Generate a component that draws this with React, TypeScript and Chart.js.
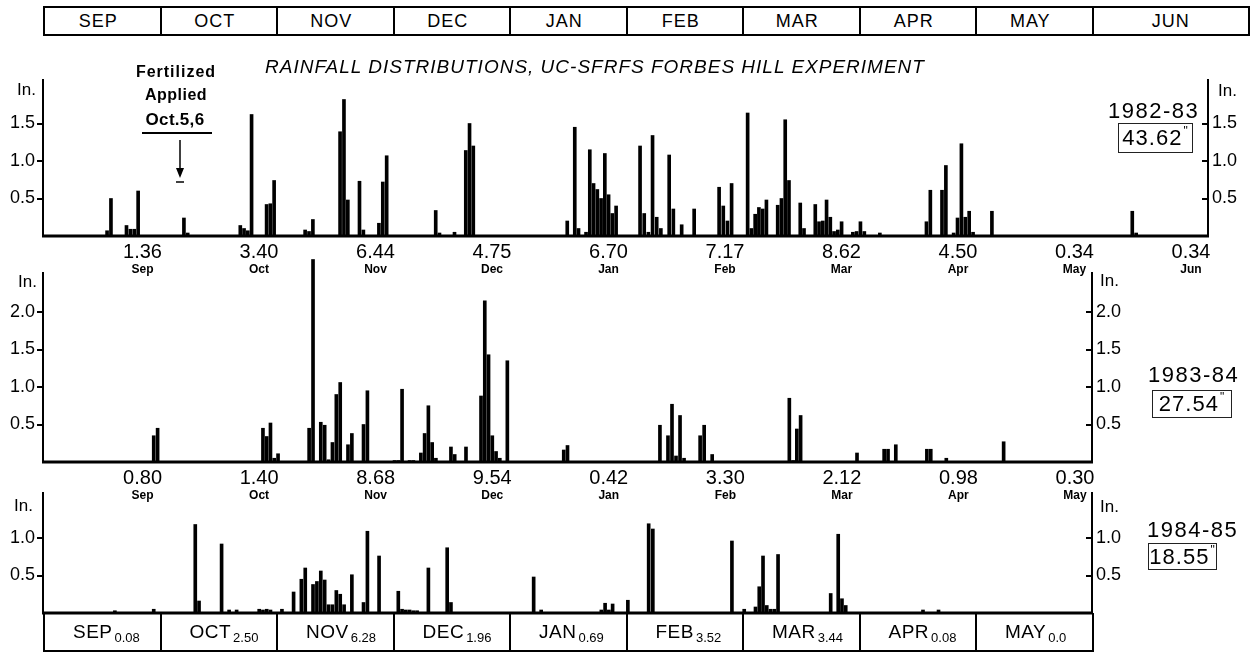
import React, { useEffect, useRef } from "react";
import { Chart, registerables } from "chart.js";

Chart.register(...registerables);

const FONT = "'Liberation Sans', Arial, sans-serif";

const MONTH_NAMES = ["Sep", "Oct", "Nov", "Dec", "Jan", "Feb", "Mar", "Apr", "May", "Jun"];
const HEADER_LABELS = ["SEP", "OCT", "NOV", "DEC", "JAN", "FEB", "MAR", "APR", "MAY", "JUN"];
const FOOTER_LABELS = ["SEP", "OCT", "NOV", "DEC", "JAN", "FEB", "MAR", "APR", "MAY"];

const DAYS_1982_83 = [30, 31, 30, 31, 31, 28, 31, 30, 31, 30];
const DAYS_1983_84 = [30, 31, 30, 31, 31, 29, 31, 30, 31];
const DAYS_1984_85 = [30, 31, 30, 31, 31, 28, 31, 30, 31];

const TOTALS_1982_83 = ["1.36", "3.40", "6.44", "4.75", "6.70", "7.17", "8.62", "4.50", "0.34", "0.34"];
const TOTALS_1983_84 = ["0.80", "1.40", "8.68", "9.54", "0.42", "3.30", "2.12", "0.98", "0.30"];
const TOTALS_1984_85 = ["0.08", "2.50", "6.28", "1.96", "0.69", "3.52", "3.44", "0.08", "0.0"];

const SEASONS = ["1982-83", "1983-84", "1984-85"];
const SEASON_TOTALS = ["43.62", "27.54", "18.55"];

const TICKS_1982_83 = [0.5, 1.0, 1.5];
const TICKS_1983_84 = [0.5, 1.0, 1.5, 2.0];
const TICKS_1984_85 = [0.5, 1.0];

// ---- daily rainfall 1982-83 ----
const RAIN_1982_83_DATES = [
  "Sep 17", "Sep 18", "Sep 22", "Sep 23", "Sep 24", "Sep 25",
  "Oct 7", "Oct 8", "Oct 22", "Oct 23", "Oct 24", "Oct 25", "Oct 29", "Oct 30", "Oct 31",
  "Nov 8", "Nov 9", "Nov 10", "Nov 17", "Nov 18", "Nov 19", "Nov 22", "Nov 23", "Nov 27", "Nov 28", "Nov 29",
  "Dec 12", "Dec 13", "Dec 17", "Dec 20", "Dec 21", "Dec 22",
  "Jan 16", "Jan 18", "Jan 19", "Jan 21", "Jan 22", "Jan 23", "Jan 24", "Jan 25", "Jan 26", "Jan 27", "Jan 28", "Jan 29",
  "Feb 4", "Feb 5", "Feb 6", "Feb 7", "Feb 8", "Feb 9", "Feb 11", "Feb 12", "Feb 14", "Feb 17", "Feb 23", "Feb 24", "Feb 25", "Feb 26",
  "Mar 2", "Mar 3", "Mar 4", "Mar 5", "Mar 6", "Mar 7", "Mar 10", "Mar 11", "Mar 12", "Mar 13", "Mar 16", "Mar 17",
  "Mar 20", "Mar 21", "Mar 22", "Mar 23", "Mar 24", "Mar 25", "Mar 26", "Mar 27", "Mar 30", "Mar 31",
  "Apr 1", "Apr 2", "Apr 6", "Apr 18", "Apr 19", "Apr 22", "Apr 23", "Apr 25", "Apr 26", "Apr 27", "Apr 28", "Apr 29", "Apr 30",
  "May 5", "Jun 11", "Jun 12",
];
const RAIN_1982_83_INCHES = [
  0.07, 0.5, 0.14, 0.09, 0.09, 0.6,
  0.24, 0.04, 0.14, 0.1, 0.07, 1.62, 0.42, 0.43, 0.74,
  0.08, 0.06, 0.22, 1.39, 1.82, 0.48, 0.73, 0.08, 0.17, 0.72, 1.07,
  0.34, 0.04, 0.05, 1.14, 1.5, 1.2,
  0.2, 1.45, 0.1, 0.05, 1.15, 0.7, 0.62, 0.5, 1.1, 0.55, 0.3, 0.4,
  1.2, 0.3, 0.05, 1.34, 0.25, 0.1, 1.08, 0.36, 0.15, 0.36, 0.65, 0.4, 0.2, 0.7,
  1.64, 0.1, 0.29, 0.38, 0.36, 0.48, 0.41, 0.5, 1.55, 0.74, 0.44, 0.1,
  0.42, 0.19, 0.2, 0.48, 0.25, 0.06, 0.08, 0.19, 0.05, 0.06,
  0.19, 0.06, 0.04, 0.19, 0.61, 0.61, 0.94, 0.04, 0.24, 1.23, 0.25, 0.33, 0.05,
  0.33, 0.33, 0.04,
];

// ---- daily rainfall 1983-84 ----
const RAIN_1983_84_DATES = [
  "Sep 29", "Sep 30",
  "Oct 28", "Oct 29", "Oct 30", "Oct 31",
  "Nov 1", "Nov 9", "Nov 10", "Nov 12", "Nov 13", "Nov 14", "Nov 15", "Nov 16", "Nov 17", "Nov 19", "Nov 20", "Nov 23", "Nov 24",
  "Dec 1", "Dec 2", "Dec 3", "Dec 5", "Dec 6", "Dec 8", "Dec 9", "Dec 10", "Dec 11", "Dec 12", "Dec 16", "Dec 17", "Dec 20",
  "Dec 24", "Dec 25", "Dec 26", "Dec 27", "Dec 28", "Dec 29", "Dec 31",
  "Jan 15", "Jan 16",
  "Feb 9", "Feb 11", "Feb 12", "Feb 13", "Feb 14", "Feb 15", "Feb 19", "Feb 20", "Feb 22",
  "Mar 13", "Mar 14", "Mar 15", "Mar 16", "Mar 31",
  "Apr 7", "Apr 8", "Apr 10", "Apr 18", "Apr 19", "Apr 23",
  "May 8",
];
const RAIN_1983_84_INCHES = [
  0.35, 0.45,
  0.45, 0.34, 0.52, 0.05,
  0.11, 0.45, 2.7, 0.53, 0.49, 0.03, 0.26, 0.9, 1.06, 0.23, 0.38, 0.5, 0.95,
  0.02, 0.02, 0.97, 0.02, 0.02, 0.12, 0.38, 0.75, 0.26, 0.05, 0.2, 0.1, 0.2,
  0.88, 2.15, 1.43, 0.35, 0.14, 0.05, 1.35,
  0.16, 0.22,
  0.49, 0.35, 0.77, 0.08, 0.62, 0.05, 0.35, 0.49, 0.1,
  0.85, 0.02, 0.44, 0.62, 0.12,
  0.17, 0.17, 0.23, 0.17, 0.17, 0.05,
  0.27,
];

// ---- daily rainfall 1984-85 ----
const RAIN_1984_85_DATES = [
  "Sep 19", "Sep 29",
  "Oct 10", "Oct 11", "Oct 17", "Oct 19", "Oct 21", "Oct 27", "Oct 28", "Oct 29", "Oct 30",
  "Nov 2", "Nov 5", "Nov 7", "Nov 8", "Nov 10", "Nov 11", "Nov 12", "Nov 13", "Nov 14", "Nov 15", "Nov 16", "Nov 17", "Nov 18",
  "Nov 20", "Nov 23", "Nov 24", "Nov 27",
  "Dec 2", "Dec 3", "Dec 4", "Dec 5", "Dec 6", "Dec 7", "Dec 10", "Dec 15", "Dec 16",
  "Jan 7", "Jan 9", "Jan 25", "Jan 26", "Jan 27", "Jan 28",
  "Feb 1", "Feb 6", "Feb 7", "Feb 26",
  "Mar 1", "Mar 4", "Mar 5", "Mar 6", "Mar 7", "Mar 8", "Mar 9", "Mar 10", "Mar 24", "Mar 26", "Mar 27", "Mar 28",
  "Apr 17", "Apr 21",
];
const RAIN_1984_85_INCHES = [
  0.03, 0.05,
  1.18, 0.16, 0.92, 0.04, 0.04, 0.05, 0.04, 0.05, 0.04,
  0.05, 0.28, 0.45, 0.6, 0.38, 0.42, 0.56, 0.44, 0.11, 0.11, 0.3, 0.25, 0.11,
  0.51, 0.14, 1.09, 0.76,
  0.29, 0.05, 0.04, 0.04, 0.03, 0.03, 0.6, 0.87, 0.14,
  0.48, 0.04, 0.04, 0.13, 0.04, 0.12,
  0.17, 1.19, 1.12, 0.96,
  0.05, 0.08, 0.35, 0.76, 0.1, 0.05, 0.05, 0.78, 0.26, 1.05, 0.19, 0.1,
  0.04, 0.04,
];

type Pt = { x: number; y: number };

function toPoints(dates: string[], inches: number[], days: number[]): Pt[] {
  return dates.map((d, i) => {
    const m = MONTH_NAMES.indexOf(d.slice(0, 3));
    const day = parseInt(d.slice(4), 10);
    return { x: m + (day - 0.5) / days[m], y: inches[i] };
  });
}

type PanelProps = {
  top: number;
  height: number;
  padTop: number;
  padBottom: number;
  rightEdge: number;
  yMax: number;
  yTicks: number[];
  points: Pt[];
  months: number;
  totals: string[] | null;
};

function RainPanel(p: PanelProps) {
  const ref = useRef<HTMLCanvasElement | null>(null);
  useEffect(() => {
    const canvas = ref.current;
    if (!canvas) return;
    const decor = {
      id: "panelDecor",
      afterDraw(chart: any) {
        const { ctx, chartArea, scales } = chart;
        const y0 = scales.y.getPixelForValue(0);
        ctx.save();
        ctx.strokeStyle = "#000";
        ctx.lineWidth = 3;
        ctx.beginPath();
        ctx.moveTo(chartArea.left - 1, y0);
        ctx.lineTo(chartArea.right + 1, y0);
        ctx.stroke();
        ctx.lineWidth = 2;
        for (const v of p.yTicks) {
          const yy = Math.round(scales.y2.getPixelForValue(v));
          ctx.beginPath();
          ctx.moveTo(chartArea.right - 6, yy);
          ctx.lineTo(chartArea.right, yy);
          ctx.stroke();
        }
        if (p.totals) {
          ctx.fillStyle = "#000";
          ctx.textAlign = "center";
          ctx.textBaseline = "middle";
          p.totals.forEach((t, i) => {
            const x = scales.x.getPixelForValue(i + 1) - 17;
            ctx.font = `20px ${FONT}`;
            ctx.fillText(t, x, y0 + 16);
            ctx.font = `bold 12px ${FONT}`;
            ctx.fillText(MONTH_NAMES[i], x, y0 + 34);
          });
        }
        ctx.restore();
      },
    };
    const chart = new Chart(canvas, {
      type: "bar",
      data: {
        datasets: [
          {
            data: p.points as any,
            backgroundColor: "#000",
            borderWidth: 0,
            barThickness: 3,
            clip: false as any,
            xAxisID: "x",
            yAxisID: "y",
          },
        ],
      },
      options: {
        responsive: false,
        animation: false,
        events: [],
        layout: { padding: { top: p.padTop, bottom: p.padBottom, left: 0, right: 0 } },
        plugins: { legend: { display: false }, tooltip: { enabled: false } },
        scales: {
          x: { type: "linear", min: 0, max: p.months, display: false, offset: false },
          y: {
            type: "linear",
            position: "left",
            min: 0,
            max: p.yMax,
            afterFit: (s: any) => {
              s.width = 43;
            },
            afterBuildTicks: (s: any) => {
              s.ticks = p.yTicks.map((v) => ({ value: v }));
            },
            ticks: {
              color: "#000",
              font: { family: FONT, size: 18 },
              padding: 2,
              callback: (v: any) => Number(v).toFixed(1),
            },
            grid: { drawOnChartArea: false, drawTicks: true, tickLength: 6, color: "#000", lineWidth: 2 },
            border: { display: true, color: "#000", width: 2 },
          },
          y2: {
            type: "linear",
            position: "right",
            min: 0,
            max: p.yMax,
            afterFit: (s: any) => {
              s.width = 1255 - p.rightEdge;
            },
            afterBuildTicks: (s: any) => {
              s.ticks = p.yTicks.map((v) => ({ value: v }));
            },
            ticks: {
              color: "#000",
              font: { family: FONT, size: 18 },
              padding: 4,
              callback: (v: any) => Number(v).toFixed(1),
            },
            grid: { drawOnChartArea: false, drawTicks: false },
            border: { display: true, color: "#000", width: 2 },
          },
        } as any,
      },
      plugins: [decor],
    } as any);
    return () => chart.destroy();
  }, []);
  return (
    <canvas
      ref={ref}
      width={1255}
      height={p.height}
      style={{ position: "absolute", left: 0, top: p.top, width: 1255, height: p.height }}
    />
  );
}

function Txt(props: {
  x: number;
  y: number;
  size: number;
  align?: "left" | "center" | "right";
  weight?: string;
  italic?: boolean;
  spacing?: number;
  children: React.ReactNode;
}) {
  const { x, y, size, align = "left", weight = "normal", italic = false, spacing = 0 } = props;
  const tx = align === "center" ? "-50%" : align === "right" ? "-100%" : "0";
  return (
    <div
      style={{
        position: "absolute",
        left: x,
        top: y - size / 2,
        fontSize: size,
        lineHeight: `${size}px`,
        fontWeight: weight as any,
        fontStyle: italic ? "italic" : "normal",
        letterSpacing: spacing,
        whiteSpace: "nowrap",
        transform: `translateX(${tx})`,
      }}
    >
      {props.children}
    </div>
  );
}

function TotalBox(props: { x: number; y: number; w: number; h: number; value: string }) {
  return (
    <div
      style={{
        position: "absolute",
        left: props.x,
        top: props.y,
        width: props.w,
        height: props.h,
        boxSizing: "border-box",
        border: "1.5px solid #222",
        display: "flex",
        alignItems: "center",
        justifyContent: "center",
        fontSize: 22,
        lineHeight: "22px",
        letterSpacing: 1,
      }}
    >
      {props.value}
      <span style={{ fontSize: 12, position: "relative", top: -7, marginLeft: 1 }}>"</span>
    </div>
  );
}

export default function App() {
  const MW = 116.5;
  const L = 43;
  const p1 = toPoints(RAIN_1982_83_DATES, RAIN_1982_83_INCHES, DAYS_1982_83);
  const p2 = toPoints(RAIN_1983_84_DATES, RAIN_1983_84_INCHES, DAYS_1983_84);
  const p3 = toPoints(RAIN_1984_85_DATES, RAIN_1984_85_INCHES, DAYS_1984_85);
  return (
    <div
      style={{
        position: "absolute",
        left: 0,
        top: 0,
        width: 1255,
        height: 656,
        background: "#fff",
        overflow: "hidden",
        fontFamily: FONT,
        color: "#000",
      }}
    >
      {HEADER_LABELS.map((m, i) => {
        const left = L + i * MW;
        const last = i === HEADER_LABELS.length - 1;
        const right = last ? 1250 : left + MW;
        return (
          <div
            key={m}
            style={{
              position: "absolute",
              left,
              top: 6,
              width: right - left + (last ? 0 : 2),
              height: 30,
              boxSizing: "border-box",
              borderTop: "2px solid #000",
              borderBottom: "2px solid #000",
              borderLeft: "2px solid #000",
              borderRight: last ? "2px solid #000" : "none",
              display: "flex",
              alignItems: "center",
              justifyContent: "center",
              paddingRight: last ? 0 : 10,
              fontSize: 18,
              letterSpacing: 1,
            }}
          >
            {m}
          </div>
        );
      })}

      <RainPanel
        top={50}
        height={230}
        padTop={30}
        padBottom={44}
        rightEdge={1208}
        yMax={2.08}
        yTicks={TICKS_1982_83}
        points={p1}
        months={10}
        totals={TOTALS_1982_83}
      />
      <RainPanel
        top={250}
        height={255}
        padTop={23}
        padBottom={43}
        rightEdge={1092}
        yMax={2.52}
        yTicks={TICKS_1983_84}
        points={p2}
        months={9}
        totals={TOTALS_1983_84}
      />
      <RainPanel
        top={468}
        height={169}
        padTop={25}
        padBottom={24}
        rightEdge={1092}
        yMax={1.6}
        yTicks={TICKS_1984_85}
        points={p3}
        months={9}
        totals={null}
      />

      <Txt x={265} y={66} size={19} italic spacing={1}>
        RAINFALL DISTRIBUTIONS, UC-SFRFS FORBES HILL EXPERIMENT
      </Txt>

      <Txt x={176} y={72} size={16} align="center" weight="bold" spacing={1}>
        Fertilized
      </Txt>
      <Txt x={176} y={95} size={16} align="center" weight="bold" spacing={0.5}>
        Applied
      </Txt>
      <Txt x={175} y={119} size={17} align="center" weight="bold" spacing={0.3}>
        Oct.5,6
      </Txt>
      <svg style={{ position: "absolute", left: 0, top: 0 }} width={260} height={200}>
        <line x1={142} y1={133} x2={212} y2={133} stroke="#000" strokeWidth={2} />
        <line x1={180} y1={140} x2={180} y2={170} stroke="#000" strokeWidth={1.5} />
        <polygon points="176,168 184,168 180,178" fill="#000" />
        <line x1={176} y1={182} x2={184} y2={182} stroke="#000" strokeWidth={1.5} />
      </svg>

      <Txt x={17} y={89} size={17}>In.</Txt>
      <Txt x={1218} y={90} size={17}>In.</Txt>
      <Txt x={18} y={281} size={17}>In.</Txt>
      <Txt x={1100} y={280} size={17}>In.</Txt>
      <Txt x={14} y={505} size={17}>In.</Txt>
      <Txt x={1100} y={506} size={17}>In.</Txt>

      <Txt x={1108} y={111} size={22} spacing={1.5}>{SEASONS[0]}</Txt>
      <TotalBox x={1118} y={123} w={75} h={30} value={SEASON_TOTALS[0]} />
      <Txt x={1148} y={375} size={22} spacing={1.5}>{SEASONS[1]}</Txt>
      <TotalBox x={1152} y={390} w={80} h={28} value={SEASON_TOTALS[1]} />
      <Txt x={1147} y={530} size={22} spacing={1.5}>{SEASONS[2]}</Txt>
      <TotalBox x={1148} y={543} w={69} h={27} value={SEASON_TOTALS[2]} />

      {FOOTER_LABELS.map((m, i) => {
        const left = L + i * MW;
        const last = i === FOOTER_LABELS.length - 1;
        return (
          <div
            key={m}
            style={{
              position: "absolute",
              left,
              top: 613,
              width: MW + (last ? 2 : 0),
              height: 39,
              boxSizing: "border-box",
              borderLeft: "2px solid #000",
              borderBottom: "2px solid #000",
              borderRight: last ? "2px solid #000" : "none",
              display: "flex",
              alignItems: "center",
              paddingLeft: 28,
              whiteSpace: "nowrap",
            }}
          >
            <span style={{ fontSize: 19, letterSpacing: 0.5 }}>{m}</span>
            <span style={{ fontSize: 13, position: "relative", top: 6, marginLeft: 2 }}>
              {TOTALS_1984_85[i]}
            </span>
          </div>
        );
      })}
    </div>
  );
}
